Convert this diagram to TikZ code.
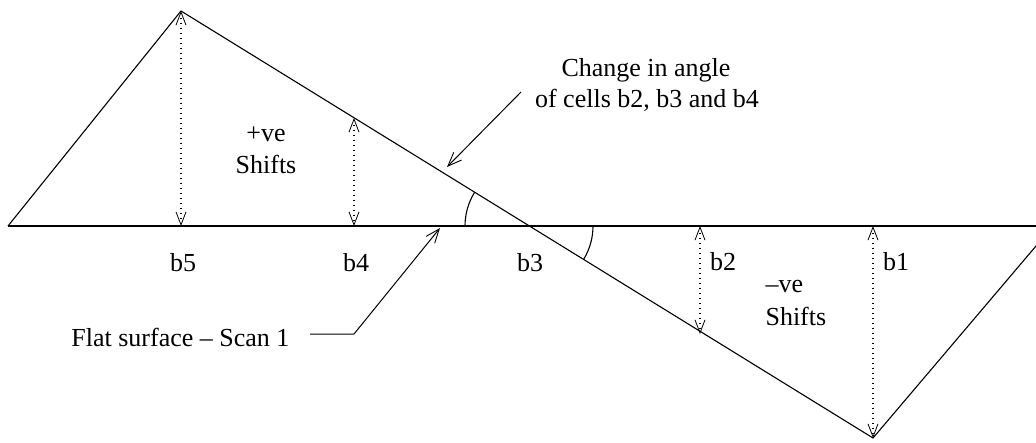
\documentclass[tikz,border=0pt]{standalone}
\usepackage{fontspec}
\setmainfont{Liberation Serif}
\usetikzlibrary{arrows.meta}
\begin{document}
\begin{tikzpicture}[x=1pt,y=-1pt,line width=1.1pt,
  lbl/.style={font=\fontsize{26}{30}\selectfont,inner sep=0pt},
  shiftarrow/.style={dash pattern=on 1.3pt off 3.7pt,line width=1.1pt,
    {Straight Barb[length=13pt,width=10pt,line width=0.8pt,sep=0pt]}-{Straight Barb[length=13pt,width=10pt,line width=0.8pt,sep=0pt]}},
  ptr/.style={line width=1pt,-{Straight Barb[length=14pt,width=11pt,line width=0.9pt]}}]
\useasboundingbox (0,0) rectangle (1036,442);
% key points
\coordinate (L) at (8,226);
\coordinate (R) at (1036,226);
\coordinate (P) at (181,11);
\coordinate (B) at (873,438);
\coordinate (X) at (529,226);
\coordinate (E) at (1053,226);
\coordinate (b5base) at (181,226);
\coordinate (b4top) at (354,118);
\coordinate (b4base) at (354,226);
\coordinate (b2base) at (700,226);
\coordinate (b2bot) at (700,334);
\coordinate (b1base) at (873,226);
% surfaces
\begin{scope}
\clip (0,0) rectangle (1036,442);
\draw (L) -- (R);
\draw (L) -- (P) -- (B) -- (E);
\end{scope}
% angle arcs
\draw (X) ++(180:64) arc[start angle=180,end angle=211.7,radius=64];
\draw (X) ++(0:64) arc[start angle=0,end angle=31.6,radius=64];
% shift arrows
\draw[shiftarrow] (P) -- (b5base);
\draw[shiftarrow] (b4top) -- (b4base);
\draw[shiftarrow] (b2base) -- (b2bot);
\draw[shiftarrow] (b1base) -- (B);
% labels
\node[lbl] (l5) at (183,263) {b5};
\node[lbl] (l4) at (356,263) {b4};
\node[lbl] (l3) at (530,263) {b3};
\node[lbl] (l2) at (723,262) {b2};
\node[lbl] (l1) at (896,262) {b1};
\node[lbl] (pos1) at (266,134) {+ve};
\node[lbl] (pos2) at (266,164) {Shifts};
\node[lbl,anchor=west] (neg1) at (765,286) {--ve};
\node[lbl,anchor=west] (neg2) at (765,316) {Shifts};
\node[lbl] (ch1) at (646,70) {Change in angle};
\node[lbl] (ch2) at (647,100) {of cells b2, b3 and b4};
\node[lbl,anchor=east] (flat) at (290,337) {Flat surface -- Scan 1};
% pointers
\coordinate (c1) at (521,92);
\coordinate (c2) at (447,167);
\draw[ptr] (c1) -- (c2);
\coordinate (f1) at (310,334);
\coordinate (f2) at (354,334);
\coordinate (f3) at (440,228);
\draw[ptr] (f1) -- (f2) -- (f3);
\end{tikzpicture}
\end{document}
